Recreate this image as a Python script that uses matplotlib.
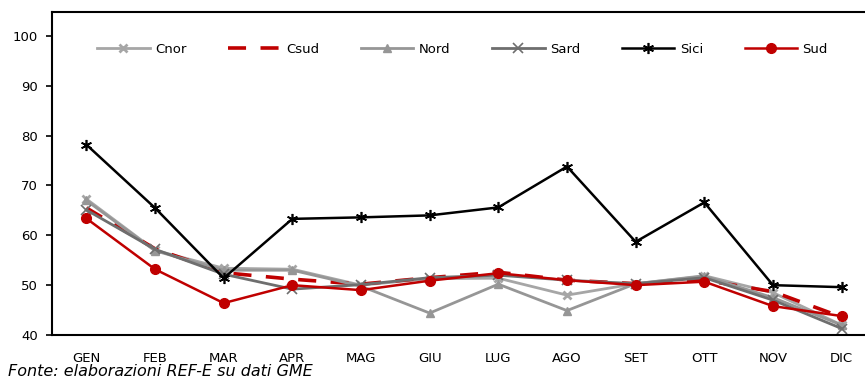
import matplotlib
matplotlib.use("Agg")
import matplotlib.pyplot as plt

# monthly zonal prices
months = ["GEN", "FEB", "MAR", "APR", "MAG", "GIU", "LUG", "AGO", "SET", "OTT", "NOV", "DIC"]
cnor = [67.3, 57.0, 53.4, 53.2, 50.0, 51.3, 51.4, 48.0, 50.3, 51.9, 48.5, 42.0]
csud = [65.5, 57.3, 52.5, 51.2, 50.2, 51.5, 52.6, 51.0, 50.3, 51.0, 48.7, 43.6]
nord = [67.0, 56.9, 53.0, 53.0, 49.8, 44.4, 50.2, 44.9, 50.3, 51.8, 47.5, 42.0]
sard = [65.1, 57.2, 52.2, 49.2, 50.1, 51.5, 52.0, 51.0, 50.3, 51.5, 47.0, 41.3]
sici = [78.2, 65.5, 51.4, 63.3, 63.6, 64.0, 65.6, 73.8, 58.7, 66.6, 50.0, 49.6]
sud = [63.4, 53.2, 46.4, 50.0, 49.0, 50.9, 52.4, 51.0, 50.0, 50.7, 45.8, 43.8]

plt.rcParams["font.family"] = ["DejaVu Sans"]

fig = plt.figure(figsize=(8.65, 3.81), dpi=100)
ax = fig.add_axes([0.0601, 0.1207, 0.9526, 0.8478])

x = range(len(months))
red = "#C00000"
ax.plot(x, cnor, color="#A6A6A6", lw=2.0, marker="x", ms=6, mew=2.0, label="Cnor")
ax.plot(x, csud, color=red, lw=2.6, dashes=(5, 4), label="Csud")
ax.plot(x, nord, color="#969696", lw=2.0, marker="^", ms=6, label="Nord")
ax.plot(x, sard, color="#6E6E6E", lw=2.0, marker="x", ms=7, mew=1.2, label="Sard")
ax.plot(x, sici, color="black", lw=1.8, marker=(6, 2, 0), ms=8, mew=1.2, label="Sici")
ax.plot(x, sud, color=red, lw=1.8, marker="o", ms=7, label="Sud")

ax.set_xlim(-0.5, 11.5)
ax.set_ylim(40, 104.8)
ax.set_yticks(range(40, 101, 10))
ax.set_xticks(list(x))
ax.set_xticklabels(months)
ax.tick_params(axis="x", length=0, pad=12, labelsize=9.5)
ax.tick_params(axis="y", length=4, width=1.2, pad=6, labelsize=9.5)
ax.spines["right"].set_visible(False)
for s in ["left", "top", "bottom"]:
    ax.spines[s].set_linewidth(1.5)

ax.legend(loc="center left", bbox_to_anchor=(0.04, 0.885), ncol=6, frameon=False,
          handlelength=4.0, columnspacing=3.15, handletextpad=0.4, fontsize=9.5)

fig.text(0.009, 0.026, "Fonte: elaborazioni REF-E su dati GME", fontsize=11.5,
         style="italic", va="center")

fig.savefig("out.png", dpi=100)
